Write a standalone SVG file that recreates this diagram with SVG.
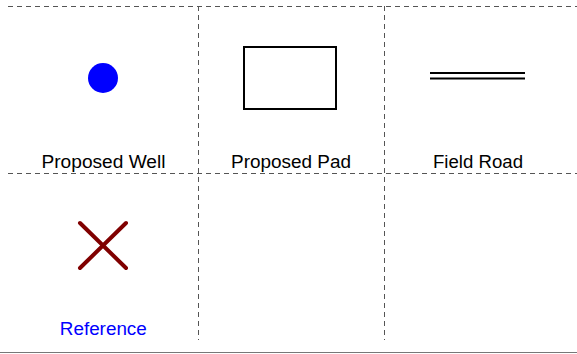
<svg xmlns="http://www.w3.org/2000/svg" width="577" height="354" viewBox="0 0 577 354">
<style>
.grid{stroke:#555;stroke-width:1;stroke-dasharray:5,4;fill:none}
.lbl{font-family:"Liberation Sans",Arial,sans-serif;font-size:17.5px;text-anchor:middle;fill:#000}
</style>
<rect width="577" height="354" fill="#fff"/>
<g id="connectors">
<line class="grid" x1="8" y1="6.5" x2="577" y2="6.5"/>
<line class="grid" x1="8" y1="173.5" x2="577" y2="173.5"/>
<line class="grid" x1="198.5" y1="6" x2="198.5" y2="340"/>
<line class="grid" x1="384.5" y1="6" x2="384.5" y2="340"/>
<line x1="0" y1="352.5" x2="577" y2="352.5" stroke="#777" stroke-width="1"/>
</g>
<g id="well">
<circle cx="103" cy="78" r="15" fill="#0000ff"/>
<text class="lbl" x="103.5" y="167.5" textLength="124" lengthAdjust="spacingAndGlyphs">Proposed Well</text>
</g>
<g id="pad">
<rect x="244" y="47" width="92" height="62" fill="#fff" stroke="#000" stroke-width="2"/>
<text class="lbl" x="291" y="167.5" textLength="120" lengthAdjust="spacingAndGlyphs">Proposed Pad</text>
</g>
<g id="road">
<line x1="430" y1="73" x2="525" y2="73" stroke="#000" stroke-width="2"/>
<line x1="430" y1="78.5" x2="525" y2="78.5" stroke="#000" stroke-width="2"/>
<text class="lbl" x="478" y="167.5" textLength="90" lengthAdjust="spacingAndGlyphs">Field Road</text>
</g>
<g id="reference">
<line x1="80" y1="223" x2="126" y2="268" stroke="#800000" stroke-width="4" stroke-linecap="round"/>
<line x1="126" y1="223" x2="80" y2="268" stroke="#800000" stroke-width="4" stroke-linecap="round"/>
<text class="lbl" x="103.3" y="335" style="fill:#0000ff" textLength="87" lengthAdjust="spacingAndGlyphs">Reference</text>
</g>
</svg>
